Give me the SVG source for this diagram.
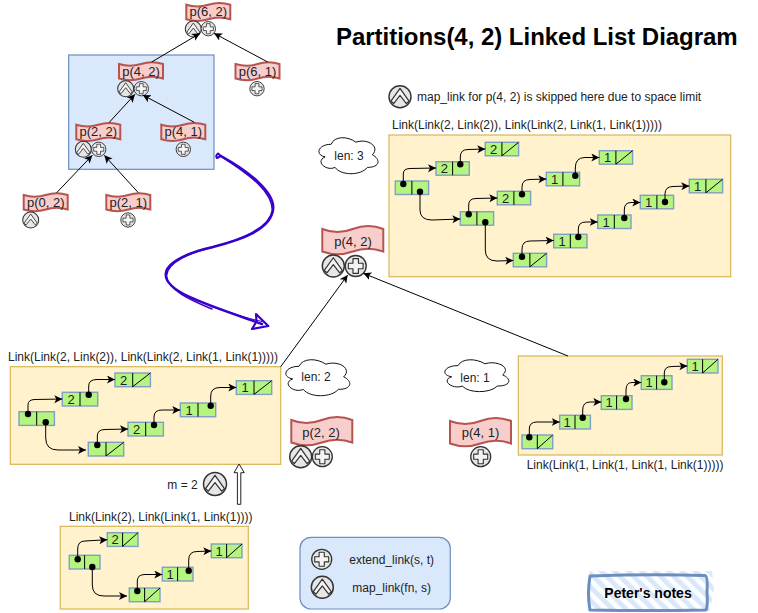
<svg xmlns="http://www.w3.org/2000/svg" width="758" height="613" viewBox="0 0 758 613">
<style>
text{font-family:"Liberation Sans",Arial,sans-serif;font-size:12px;fill:#222}
.m{text-anchor:middle}
.num{font-size:13px;text-anchor:middle}
.tp{font-size:13px;text-anchor:middle}
.panel{fill:#fff2cc;stroke:#d6b656;stroke-width:1.2}
.blue{fill:#dae8fc;stroke:#6c8ebf;stroke-width:1.2}
.tape{fill:#f8cecc;stroke:#b85450;stroke-width:2}
.cell{fill:#b5f57f;stroke:#7f9fc6;stroke-width:1.4}
.div{stroke:#000;stroke-width:1;fill:none}
.dot{fill:#000}
.ic{fill:#e6e6e6;stroke:#333;stroke-width:1.3}
.gl{fill:#f4f4f4;stroke:#333;stroke-width:1.1;stroke-linejoin:round}
.cl{fill:#fff;stroke:#111;stroke-width:1;vector-effect:non-scaling-stroke}
.e{fill:none;stroke:#000;stroke-width:1;marker-end:url(#arr)}
.pur{fill:none;stroke:#3700cc;stroke-linecap:round;stroke-linejoin:round}
</style>
<defs>
<marker id="arr" markerUnits="userSpaceOnUse" markerWidth="10" markerHeight="10" refX="8" refY="4" orient="auto"><path d="M0 0L8 4L0 8L2 4Z" fill="#000"/></marker>
<pattern id="hatch" width="9.5" height="9.5" patternUnits="userSpaceOnUse" patternTransform="rotate(-45)"><rect width="5" height="9.5" fill="#dae8fc"/></pattern>
<path id="ts" class="tape" d="M0 2Q11 5.5 22 2Q33-1.5 44 2V16.5Q33 13 22 16.5Q11 20 0 16.5Z"/>
<path id="tl" class="tape" d="M0 3Q15 9 30.5 3Q46-3 61 3V25.5Q46 20 30.5 25.5Q15 31 0 25.5Z"/>
<g id="plus"><circle class="ic" r="10"/><path class="gl" d="M-2.6-7H2.6V-2.6H7V2.6H2.6V7H-2.6V2.6H-7V-2.6H-2.6Z"/></g>
<g id="map"><circle class="ic" r="10"/><path class="gl" d="M-8.2 4L0-7.5L8.2 4L5.8 6.2L0-1.2L-5.8 6.2Z"/></g>
<path id="cloud" class="cl" d="M15 7.5C3 7.5 0 15 9.6 16.5C0 19.8 10.8 27 18.6 24C24 30 42 30 48 24C60 24 60 18 52.5 15C60 9 48 3 37.5 6C30 1.5 18 1.5 15 7.5Z"/>
<g id="c33"><rect class="cell" width="33.3" height="13.5"/><path class="div" d="M16.6 0V13.5"/></g>
<g id="c33s"><use href="#c33"/><path class="div" d="M16.6 13.5L33.3 0"/></g>
<g id="c35"><rect class="cell" width="35.4" height="13.7"/><path class="div" d="M17.7 0V13.7"/></g>
<g id="c35s"><use href="#c35"/><path class="div" d="M17.7 13.7L35.4 0"/></g>
<g id="c31"><rect class="cell" width="30.7" height="13.7"/><path class="div" d="M15.3 0V13.7"/></g>
<g id="c31s"><use href="#c31"/><path class="div" d="M15.3 13.7L30.7 0"/></g>
</defs>

<text x="336" y="45" style="font-size:24px;font-weight:bold;fill:#000;letter-spacing:-.03px">Partitions(4, 2) Linked List Diagram</text>

<g id="tree-box"><rect class="blue" x="68.7" y="55" width="145.3" height="114.3"/></g>
<g id="panel-big"><rect class="panel" x="389" y="135" width="341.7" height="141.7"/></g>
<g id="panel-p22"><rect class="panel" x="10.3" y="366.7" width="270.4" height="97.6"/></g>
<g id="panel-p41"><rect class="panel" x="518.3" y="356" width="204" height="99"/></g>
<g id="panel-base"><rect class="panel" x="60.3" y="526.3" width="188" height="82.7"/></g>

<g id="t62"><use href="#ts" x="186.3" y="2.7"/><text class="tp" x="208.3" y="16">p(6, 2)</text><use href="#map" transform="translate(193.3 29) scale(.8)"/><use href="#plus" transform="translate(208.3 28.7) scale(.72)"/></g>
<g id="t42"><use href="#ts" x="119" y="62"/><text class="tp" x="141" y="75.5">p(4, 2)</text><use href="#map" transform="translate(125.7 88.7) scale(.8)"/><use href="#plus" transform="translate(141.3 88.7) scale(.72)"/></g>
<g id="t61"><use href="#ts" x="235.5" y="62"/><text class="tp" x="257.5" y="75.5">p(6, 1)</text><use href="#plus" transform="translate(257 88.7) scale(.72)"/></g>
<g id="t22"><use href="#ts" x="76.3" y="122.7"/><text class="tp" x="98.3" y="136">p(2, 2)</text><use href="#map" transform="translate(83.3 149.3) scale(.8)"/><use href="#plus" transform="translate(98.7 149.3) scale(.72)"/></g>
<g id="t41"><use href="#ts" x="161.3" y="122.7"/><text class="tp" x="183.3" y="136">p(4, 1)</text><use href="#plus" transform="translate(183.3 149.3) scale(.72)"/></g>
<g id="t02"><use href="#ts" x="23.7" y="193"/><text class="tp" x="45.7" y="207">p(0, 2)</text><use href="#map" transform="translate(30.7 220) scale(.8)"/></g>
<g id="t21"><use href="#ts" x="106.3" y="193"/><text class="tp" x="128.3" y="207">p(2, 1)</text><use href="#plus" transform="translate(128 220) scale(.72)"/></g>

<g id="big-p42"><use href="#tl" x="322.3" y="226"/><text class="tp" x="353" y="246">p(4, 2)</text><use href="#map" transform="translate(333.3 266) scale(1.1)"/><use href="#plus" transform="translate(355.7 266) scale(1.05)"/></g>
<g id="big-p22"><use href="#tl" x="291.3" y="417"/><text class="tp" x="321" y="436.5">p(2, 2)</text><use href="#map" transform="translate(300.7 456.7) scale(1.1)"/><use href="#plus" transform="translate(322.3 456.7)"/></g>
<g id="big-p41"><use href="#tl" x="450" y="418"/><text class="tp" x="480.5" y="437">p(4, 1)</text><use href="#plus" transform="translate(480.7 456.7)"/></g>

<g id="cloud3"><use href="#cloud" transform="translate(314.6 133.8) scale(1.1 1.4)"/><text class="m" x="349" y="159.5">len: 3</text></g>
<g id="cloud2"><use href="#cloud" transform="translate(281.2 355.8) scale(1.19 1.4)"/><text class="m" x="316" y="381">len: 2</text></g>
<g id="cloud1"><use href="#cloud" transform="translate(440.2 356.3) scale(1.19 1.24)"/><text class="m" x="475" y="382">len: 1</text></g>

<g id="skip-note"><use href="#map" transform="translate(400 96.7) scale(1.1)"/><text x="417" y="101">map_link for p(4, 2) is skipped here due to space limit</text></g>
<text x="392" y="129">Link(Link(2, Link(2)), Link(Link(2, Link(1, Link(1)))))</text>
<text x="8" y="361">Link(Link(2, Link(2)), Link(Link(2, Link(1, Link(1)))))</text>
<text x="526.7" y="469">Link(Link(1, Link(1, Link(1, Link(1)))))</text>
<text x="69" y="521">Link(Link(2), Link(Link(1, Link(1))))</text>

<g id="m2"><text x="167.3" y="489">m = 2</text><use href="#map" transform="translate(215 484) scale(1.15)"/></g>
<path id="lift-arrow" d="M237.4 504.3V472.7H234L239 464L244.3 472.7H240.8V504.3Z" fill="#fff" stroke="#222" stroke-width="1"/>

<g id="legend"><rect class="blue" x="300" y="537.3" width="150.3" height="71.7" rx="11"/><use href="#plus" transform="translate(321.7 559.3)"/><text class="m" x="391.7" y="564">extend_link(s, t)</text><use href="#map" transform="translate(322.3 587.3) scale(1.1)"/><text class="m" x="391.7" y="592">map_link(fn, s)</text></g>

<g id="notes"><path d="M590 571H712L714 590L710 611H588L587 590Z" fill="url(#hatch)"/><path d="M590 576Q648 574 705 575.5Q708 576 707 592Q708 606 706 610Q648 611 590 610Q587 594 590 576Z" fill="none" stroke="#6c8ebf" stroke-width="3" stroke-linejoin="round"/><text class="m" x="648" y="598" style="font-size:14px;font-weight:bold;fill:#000">Peter's notes</text></g>

<g id="big-cells">
<g id="b1"><use href="#c33" x="395.3" y="181"/><circle class="dot" cx="403.3" cy="184" r="3.2"/><circle class="dot" cx="420" cy="191.7" r="3.2"/></g>
<g id="b2"><use href="#c33" x="436" y="161.7"/><text class="num" x="444.3" y="173">2</text><circle class="dot" cx="460.3" cy="164.3" r="3.2"/></g>
<g id="b3"><use href="#c33s" x="485.3" y="142.3"/><text class="num" x="493.6" y="153.5">2</text></g>
<g id="b4"><use href="#c33" x="460.3" y="211.7"/><circle class="dot" cx="468.7" cy="214.3" r="3.2"/><circle class="dot" cx="485.3" cy="222.3" r="3.2"/></g>
<g id="b5"><use href="#c33" x="497.3" y="191.3"/><text class="num" x="505.6" y="203">2</text><circle class="dot" cx="522" cy="194.3" r="3.2"/></g>
<g id="b6"><use href="#c33" x="546.3" y="172.3"/><text class="num" x="554.6" y="183.5">1</text><circle class="dot" cx="575.3" cy="175.7" r="3.2"/></g>
<g id="b7"><use href="#c33s" x="599.3" y="150.7"/><text class="num" x="607.6" y="162">1</text></g>
<g id="b8"><use href="#c33s" x="513.3" y="253.3"/><circle class="dot" cx="522" cy="256.7" r="3.2"/></g>
<g id="b9"><use href="#c33" x="553.7" y="234.3"/><text class="num" x="562" y="245.5">1</text><circle class="dot" cx="578.3" cy="237" r="3.2"/></g>
<g id="b10"><use href="#c33" x="597.7" y="215"/><text class="num" x="606" y="226.5">1</text><circle class="dot" cx="624.3" cy="218" r="3.2"/></g>
<g id="b11"><use href="#c33" x="640.3" y="195.3"/><text class="num" x="648.6" y="206.5">1</text><circle class="dot" cx="665" cy="202" r="3.2"/></g>
<g id="b12"><use href="#c33s" x="689.3" y="179.3"/><text class="num" x="697.6" y="190.5">1</text></g>
</g>
<g id="p22-cells">
<g id="c1"><use href="#c35" x="19" y="411.7"/><circle class="dot" cx="28" cy="414" r="3.2"/><circle class="dot" cx="45.7" cy="422.3" r="3.2"/></g>
<g id="c2"><use href="#c35" x="62.3" y="392.3"/><text class="num" x="71" y="404">2</text><circle class="dot" cx="88.7" cy="394.7" r="3.2"/></g>
<g id="c3"><use href="#c35s" x="115" y="373"/><text class="num" x="123.7" y="384.5">2</text></g>
<g id="c4"><use href="#c35s" x="88.3" y="442.3"/><circle class="dot" cx="97.3" cy="445" r="3.2"/></g>
<g id="c5"><use href="#c35" x="128" y="422.3"/><text class="num" x="136.7" y="434">2</text><circle class="dot" cx="154" cy="425" r="3.2"/></g>
<g id="c6"><use href="#c35" x="180.3" y="403"/><text class="num" x="189" y="414.5">1</text><circle class="dot" cx="210.7" cy="405.7" r="3.2"/></g>
<g id="c7"><use href="#c35s" x="236.3" y="380.7"/><text class="num" x="245" y="392">1</text></g>
</g>
<g id="p41-cells">
<g id="d1"><use href="#c31s" x="522" y="435"/><circle class="dot" cx="529.3" cy="437.3" r="3.2"/></g>
<g id="d2"><use href="#c31" x="559.7" y="415.3"/><text class="num" x="567" y="427">1</text><circle class="dot" cx="582.7" cy="417.7" r="3.2"/></g>
<g id="d3"><use href="#c31" x="601.3" y="395.7"/><text class="num" x="609" y="407">1</text><circle class="dot" cx="626" cy="399" r="3.2"/></g>
<g id="d4"><use href="#c31" x="641.3" y="375.7"/><text class="num" x="649" y="387">1</text><circle class="dot" cx="664.3" cy="382.3" r="3.2"/></g>
<g id="d5"><use href="#c31s" x="687.3" y="359.3"/><text class="num" x="695" y="370.5">1</text></g>
</g>
<g id="base-cells">
<g id="e1"><use href="#c31" x="69.3" y="555.3"/><circle class="dot" cx="77.7" cy="559.3" r="3.2"/><circle class="dot" cx="92.3" cy="567" r="3.2"/></g>
<g id="e2"><use href="#c31s" x="107.3" y="532.7"/><text class="num" x="115" y="544">2</text></g>
<g id="e3"><use href="#c31s" x="129.3" y="588"/><circle class="dot" cx="137.3" cy="591" r="3.2"/></g>
<g id="e4"><use href="#c31" x="162.3" y="567.3"/><text class="num" x="170" y="579">1</text><circle class="dot" cx="188.7" cy="570.7" r="3.2"/></g>
<g id="e5"><use href="#c31s" x="211.3" y="544"/><text class="num" x="219" y="555.5">1</text></g>
</g>

<g id="connectors">
<path class="e" d="M151.7 62L200 33.3"/>
<path class="e" d="M267.7 62L214 33.3"/>
<path class="e" d="M109.3 122.3L135 94.3"/>
<path class="e" d="M194.3 122.3L142.7 95"/>
<path class="e" d="M56.7 192.7L92.3 155.3"/>
<path class="e" d="M138.3 192.7L104.3 155.3"/>
<path class="e" d="M280.7 366.7L347.7 275"/>
<path class="e" d="M568 356L363.3 273.3"/>
<path class="e" d="M403.3 184V174Q403.3 168.5 410 168.5L436 168"/>
<path class="e" d="M460.3 164.3V157Q460.3 149.5 468 149.5L485.3 149"/>
<path class="e" d="M420 192V210Q420 220 432 220L460.3 219"/>
<path class="e" d="M468.7 214V205Q468.7 198.5 476 198.5L497.3 198"/>
<path class="e" d="M522 194V187Q522 179.5 530 179.5L546.3 179"/>
<path class="e" d="M575.3 175.7V168Q575.3 157.5 585 157.5L599.3 157.5"/>
<path class="e" d="M485.3 222V250Q485.3 261 497 261L513.3 260.5"/>
<path class="e" d="M522 256.7V249Q522 241 530 241L553.7 240.5"/>
<path class="e" d="M578.3 237V229Q578.3 222 586 222L597.7 222"/>
<path class="e" d="M624.3 218V210Q624.3 202.5 631 202.5L640.3 202.5"/>
<path class="e" d="M665 202V194Q665 186.5 673 186.5L689.3 186"/>
<path class="e" d="M28 414V405Q28 399.5 35 399.5L62.3 399"/>
<path class="e" d="M88.7 394.7V386Q88.7 379.5 97 379.5L115 379.5"/>
<path class="e" d="M45.7 422.3V438Q45.7 450 58 450L86 450"/>
<path class="e" d="M97.3 445V436Q97.3 429.5 105 429.5L128 429"/>
<path class="e" d="M154 425V417Q154 410 162 410L180.3 410"/>
<path class="e" d="M210.7 405.7V396Q210.7 387.5 220 387.5L236.3 387.5"/>
<path class="e" d="M529.3 437V429Q529.3 422 537 422L559.7 422"/>
<path class="e" d="M582.7 417.7V410Q582.7 402 590 402L601.3 402"/>
<path class="e" d="M626 399V390Q626 382.5 632 382.5L641.3 382.5"/>
<path class="e" d="M664.3 382V373Q664.3 366.5 672 366.5L687.3 366"/>
<path class="e" d="M77.7 559V549Q77.7 541 85 541L107.3 539.7"/>
<path class="e" d="M92.3 567V585Q92.3 596 104 596L127 596"/>
<path class="e" d="M137.3 591V581Q137.3 574.5 145 574.5L162.3 574.5"/>
<path class="e" d="M188.7 570.7V560Q188.7 551.5 197 551.5L211.3 551"/>
<path class="pur" stroke-width="2.4" d="M221 156C250 172 274 192 273.3 208C272 230 240 240 213 247C190 252 165 262 165.7 275C166 292 205 304 262 324"/>
<path class="pur" stroke-width="1.5" d="M222 157C252 176 272 192 272.3 210C270 228 240 240 214 246.5M212 247.5C192 252 167 262 166.5 276C168 290 190 300 212 309"/>
<path class="pur" stroke-width="1" d="M211 306.5C230 312 245 318 262 321.5"/>
<path class="pur" stroke-width="2" d="M221 156L218 153.5Q215 156 217 158Z"/>
<path class="pur" stroke-width="2.2" d="M256 314L268.3 326L252 329L256.5 321.5Z"/>
</g>
</svg>
